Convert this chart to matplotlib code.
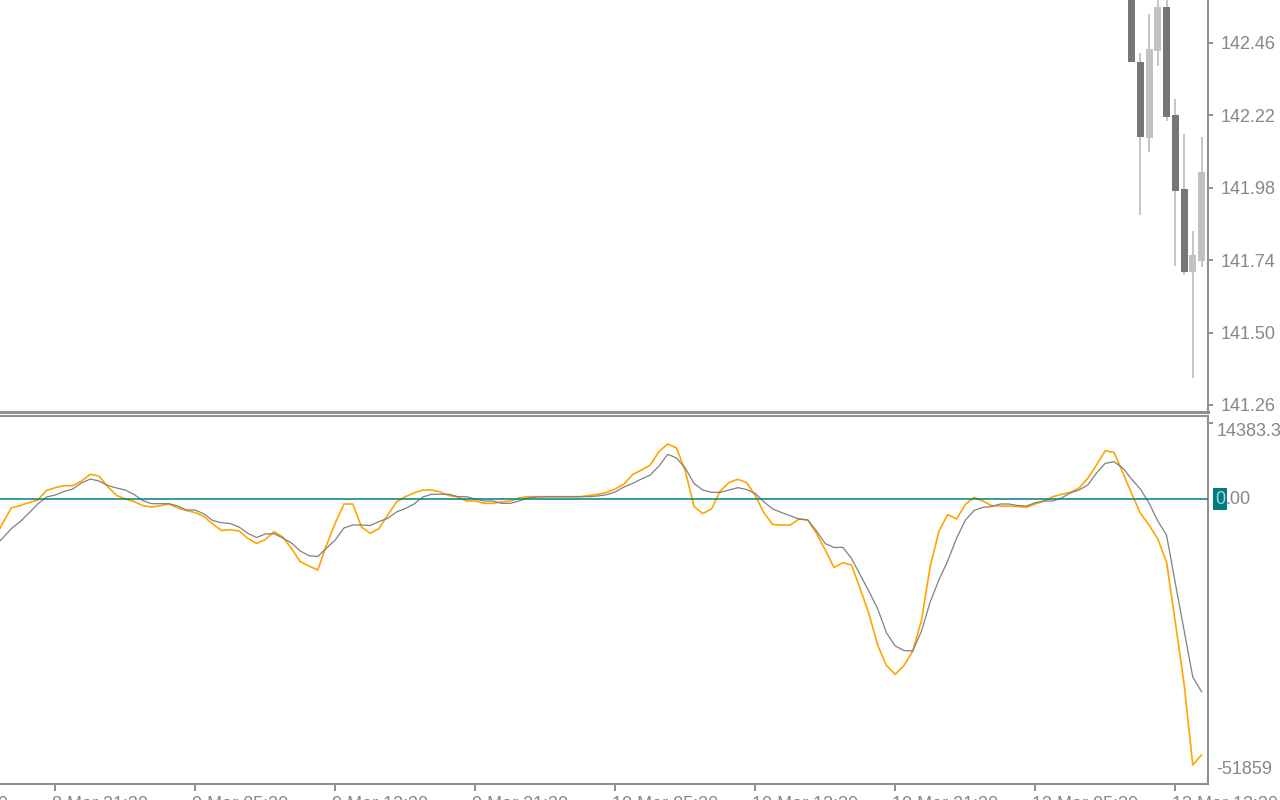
import numpy as np
import matplotlib
matplotlib.use('Agg')
import matplotlib.pyplot as plt

# MACD main line (orange) and signal line (gray), one value per M30 bar
macd_main = [
    -7790, -4560, -1650, -1240, -670, -190, 1620, 2150, 2530, 2530,
    3420, 4690, 4370, 2340, 700, 0, -480, -1240, -1520, -1270,
    -950, -1710, -2190, -2570, -3360, -4750, -5990, -5830, -6080, -7470,
    -8460, -7700, -6210, -7220, -9410, -11910, -12730, -13490, -8740, -4560,
    -950, -950, -5320, -6520, -5610, -3040, -570, 440, 1140, 1710,
    1710, 1330, 670, 380, -380, -380, -820, -820, -570, -380,
    190, 440, 440, 440, 440, 440, 440, 440, 670, 890,
    1270, 1900, 2850, 4660, 5510, 6460, 9030, 10450, 9690, 5320,
    -1430, -2760, -1900, 1520, 3140, 3740, 3140, 670, -2660, -4850,
    -4940, -4940, -3800, -3990, -6560, -9690, -13020, -12100, -12540, -17100,
    -21850, -27840, -31640, -33310, -31640, -28880, -22990, -12730, -6080, -2950,
    -3800, -1050, 320, -380, -1240, -1330, -1330, -1430, -1580, -950,
    -380, 440, 890, 1270, 2090, 3930, 6460, 9180, 8840, 5040,
    1050, -2660, -4940, -7600, -11970, -23370, -35020, -50540, -48640,
]
macd_signal = [
    -9120, -7410, -5610, -4280, -2660, -950, 380, 760, 1430, 1900,
    3040, 3800, 3420, 2570, 2090, 1710, 860, -290, -890, -890,
    -890, -1330, -2090, -2090, -2850, -4090, -4500, -4660, -5320, -6520,
    -7320, -6650, -6590, -7410, -8360, -9880, -10770, -10930, -9310, -7790,
    -5510, -4940, -4940, -5040, -4280, -3670, -2470, -1810, -950, 380,
    890, 890, 890, 440, 440, 0, -380, -380, -820, -820,
    -380, 190, 380, 440, 440, 440, 440, 440, 440, 570,
    820, 1330, 2280, 2980, 3800, 4560, 6270, 8490, 7790, 5890,
    2950, 1710, 1270, 1270, 1710, 2150, 1810, 1050, -570, -1900,
    -2570, -3190, -3800, -3990, -6080, -8460, -9220, -9180, -11310, -14440,
    -17580, -20900, -25460, -27930, -28790, -28880, -25080, -19510, -15330, -11740,
    -7470, -4050, -2190, -1580, -1430, -950, -950, -1240, -1330, -700,
    -380, -380, 190, 1140, 1710, 2660, 4940, 6780, 7090, 5890,
    3800, 1900, -760, -4180, -6840, -15960, -24890, -33820, -36610,
]

# the last candles of the price pane (older ones are above the visible range)
candle_first_bar = 130
c_open = [142.68, 142.397, 142.145, 142.433, 142.579, 142.221, 141.976, 141.701, 141.737]
c_high = [142.70, 142.427, 142.556, 142.64, 142.65, 142.274, 142.158, 141.837, 142.148]
c_low = [142.397, 141.89, 142.099, 142.384, 142.201, 141.721, 141.691, 141.349, 141.717]
c_close = [142.397, 142.148, 142.44, 142.579, 142.215, 141.969, 141.701, 141.757, 142.032]

price_ticks = [141.26, 141.50, 141.74, 141.98, 142.22, 142.46]
time_labels = ['8 Mar 13:30', '8 Mar 21:30', '9 Mar 05:30', '9 Mar 13:30', '9 Mar 21:30',
               '10 Mar 05:30', '10 Mar 13:30', '10 Mar 21:30', '13 Mar 05:30', '13 Mar 13:30']
time_first_bar = -9
time_step = 16
ind_max_label = '14383.3'
ind_min_label = '-51859'

SP = '#8f9195'     # axis lines
TXT = '#86868f'    # label text
FS = 13
plt.rcParams['font.family'] = ['Liberation Sans', 'DejaVu Sans']

W, H = 1280, 800
def box(x0, y0, x1, y1):
    return [x0 / W, 1 - y1 / H, (x1 - x0) / W, (y1 - y0) / H]

fig = plt.figure(figsize=(12.8, 8), dpi=100)
ax1 = fig.add_axes(box(0, 0, 1208, 411.5))
ax2 = fig.add_axes(box(0, 415.5, 1208, 784))
xlim = (0.686, 138.74)

# price pane
cx = candle_first_bar + np.arange(len(c_open))
o = np.array(c_open); c = np.array(c_close)
up = c >= o
ax1.vlines(cx, c_low, c_high, color='#c6c6c6', lw=1.44, zorder=1)
ax1.bar(cx, np.abs(c - o), bottom=np.minimum(o, c), width=0.8,
        color=np.where(up, '#c2c2c2', '#767676'), zorder=2)
ax1.set_xticks([])
ax1.set_xlim(xlim)
ax1.set_ylim(141.2384, 142.6025)
for s in ['top', 'left']:
    ax1.spines[s].set_visible(False)
ax1.spines['right'].set_color(SP); ax1.spines['right'].set_linewidth(1.5)
ax1.spines['bottom'].set_color(SP); ax1.spines['bottom'].set_linewidth(2.2)
ax1.yaxis.tick_right()
ax1.set_yticks(price_ticks)
ax1.set_yticklabels(['%.2f' % p for p in price_ticks])
ax1.set_ylim(141.2384, 142.6025)
ax1.tick_params(axis='y', direction='out', length=3.6, width=1.44, pad=5.5,
                colors=SP, labelcolor=TXT, labelsize=FS)

# indicator pane
bars = np.arange(len(macd_main))
ax2.plot(bars, macd_main, color='#ffa500', lw=1.2, zorder=2)
ax2.plot(bars, macd_signal, color='#808080', lw=0.9, zorder=3)
ax2.axhline(0, color='#008080', lw=1.1, zorder=4)
ax2.spines['left'].set_visible(False)
for s in ['top', 'right', 'bottom']:
    ax2.spines[s].set_color(SP); ax2.spines[s].set_linewidth(1.5)

tick_bars = [time_first_bar + time_step * k for k in range(len(time_labels))]
ax2.set_xticks(tick_bars)
ax2.tick_params(axis='x', direction='out', length=5, width=1.44, colors=SP, labelbottom=False)
ax2.yaxis.tick_right()
ax2.set_yticks([float(ind_max_label)])
ax2.tick_params(axis='y', direction='out', length=3.6, width=1.44, colors=SP, labelright=False)
ax2.set_xlim(xlim)
ax2.set_ylim(-54150, 15865)

for b, lab in zip(tick_bars, time_labels):
    ax2.annotate(lab, xy=(b, 0), xycoords=('data', 'axes fraction'), xytext=(-3, -12),
                 textcoords='offset pixels', ha='left', va='top', fontsize=FS, color=TXT,
                 annotation_clip=False)

ax2.annotate(ind_max_label, xy=(1, 1), xycoords='axes fraction', xytext=(9, -15.5),
             textcoords='offset pixels', ha='left', va='center', fontsize=FS, color=TXT)
ax2.annotate(ind_min_label, xy=(1, 0), xycoords='axes fraction', xytext=(8, 15),
             textcoords='offset pixels', ha='left', va='center', fontsize=FS, color=TXT)
ax2.annotate('0', xy=(1, 0), xycoords=('axes fraction', 'data'), xytext=(7, 0),
             textcoords='offset pixels', ha='left', va='center', fontsize=FS, color='#a9d4e4',
             bbox=dict(boxstyle='square,pad=0.12', fc='#007c80', ec='none'))
ax2.annotate('.00', xy=(1, 0), xycoords=('axes fraction', 'data'), xytext=(17, 0),
             textcoords='offset pixels', ha='left', va='center', fontsize=FS, color=TXT)

fig.savefig('out.png', dpi=100, facecolor='white')
